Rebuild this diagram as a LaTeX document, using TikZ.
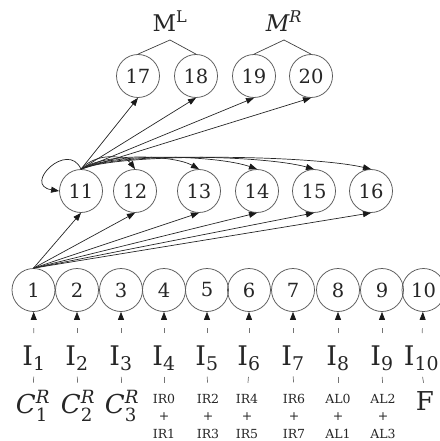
\documentclass[tikz,border=0pt]{standalone}
\usepackage{amsmath}
\usepackage{fontspec}
\setmainfont{DejaVu Serif}
\usetikzlibrary{arrows.meta}

\begin{document}
\begin{tikzpicture}[
    x=1pt, y=-1pt,
    state/.style={
        circle, draw=black!65, line width=0.75pt,
        minimum size=43pt, inner sep=0pt,
        text=black!85,
        font=\fontsize{19.5}{20}\selectfont
    },
    inlabel/.style={inner sep=0pt, text=black!85, font=\fontsize{27}{28}\selectfont},
    regname/.style={inner sep=0pt, text=black!85, font=\fontsize{26}{27}\selectfont},
    oplabel/.style={inner sep=0pt, align=center, text=black!85, font=\fontsize{12.5}{17.5}\selectfont},
    memlabel/.style={inner sep=0pt, outer ysep=8pt, text=black!85, font=\fontsize{23}{24}\selectfont},
    edge/.style={-{Triangle[length=8pt,width=6pt,color=black!90]}, black!85, line width=0.7pt},
    feed/.style={edge, black!55, shorten <=12pt, dash pattern=on 5pt off 40pt},
    link/.style={black!55, line width=0.7pt, dash pattern=on 0pt off 6pt on 6pt off 100pt},
    bracket/.style={black!75, line width=0.7pt}
]
\useasboundingbox (0,0) rectangle (439,441);

% bottom row with its inputs
\foreach \k/\x/\lx in {1/33.5/34,2/77/77,3/121/121,4/164/164,5/207/207,6/249/249,7/293/293,8/338/338,9/382/382,10/423.5/421.5} {
    \node[state] (n\k) at (\x,290) {\k};
    \node[inlabel, anchor=base] (i\k) at (\lx,365) {I$_{\text{\k}}$};
    \draw[feed] (i\k) -- (n\k);
}
\node[regname, anchor=base] (l1) at (33,413) {{\itshape C}$^{\text{\itshape R}}_{\text{1}}$};
\node[regname, anchor=base] (l2) at (78,413) {{\itshape C}$^{\text{\itshape R}}_{\text{2}}$};
\node[regname, anchor=base] (l3) at (122,413) {{\itshape C}$^{\text{\itshape R}}_{\text{3}}$};
\node[oplabel, anchor=north] (l4) at (164,394) {IR0\\+\\IR1};
\node[oplabel, anchor=north] (l5) at (208,394) {IR2\\+\\IR3};
\node[oplabel, anchor=north] (l6) at (247,394) {IR4\\+\\IR5};
\node[oplabel, anchor=north] (l7) at (294,394) {IR6\\+\\IR7};
\node[oplabel, anchor=north] (l8) at (338,394) {AL0\\+\\AL1};
\node[oplabel, anchor=north] (l9) at (383,394) {AL2\\+\\AL3};
\node[regname, anchor=base] (l10) at (425,410) {F};
\foreach \k in {1,...,10}
    \draw[link] (i\k.south) -- (l\k.north);

% middle row
\foreach \k/\x in {11/81,12/135,13/199,14/257,15/314,16/371}
    \node[state] (n\k) at (\x,191) {\k};

% top row and memories
\foreach \k/\x in {17/138,18/196,19/254,20/311}
    \node[state] (n\k) at (\x,76) {\k};
\node[memlabel, anchor=base] (ml) at (170,32) {M$^{\text{L}}$};
\node[memlabel, anchor=base] (mr) at (284,32) {{\itshape M}$^{\text{\itshape R}}$};
\draw[bracket] (ml.south) -- (n17.north);
\draw[bracket] (ml.south) -- (n18.north);
\draw[bracket] (mr.south) -- (n19.north);
\draw[bracket] (mr.south) -- (n20.north);

% edges
\foreach \k in {11,...,16}
    \draw[edge] (n1.north) -- (n\k.south);
\foreach \k in {17,...,20}
    \draw[edge] (n11.north) -- (n\k.south);
\foreach \k/\a/\b in {12/15/10,13/25/25,14/30/40,15/35/50,16/40/60}
    \draw[edge] (n11.north) .. controls +(\a,-17) and +(-\b,-14) .. (n\k.north);
\draw[edge] (n11.north) .. controls (68,140) and (22,185) .. (n11.west);
\end{tikzpicture}
\end{document}
